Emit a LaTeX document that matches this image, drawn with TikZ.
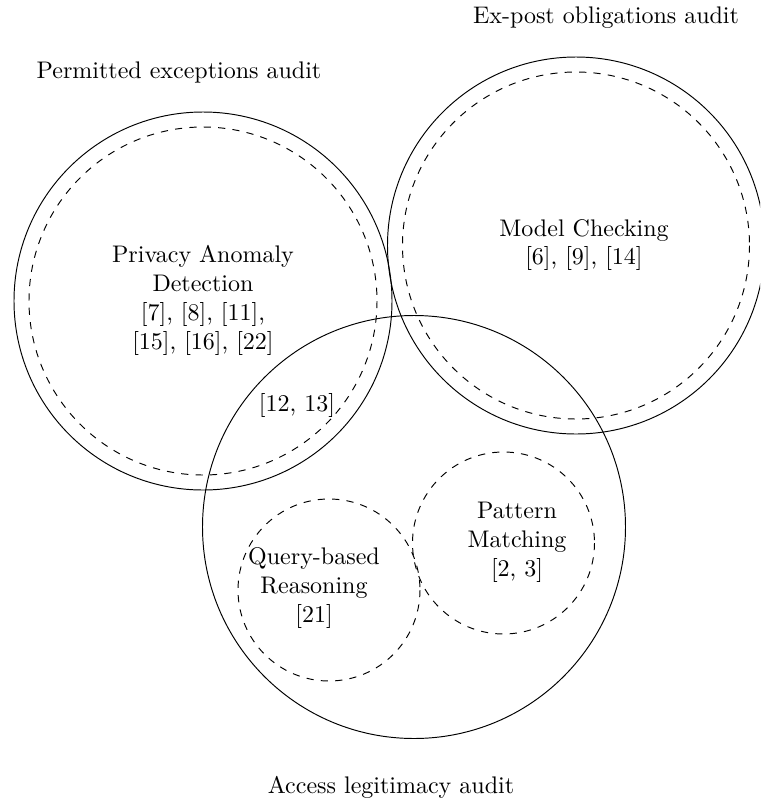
\documentclass[tikz,border=0pt]{standalone}
\begin{document}
\begin{tikzpicture}[x=0.41667pt,y=-0.41667pt,
  solidc/.style={draw=black, line width=0.4pt},
  dashc/.style={draw=black, dashed, line width=0.4pt},
  lbl/.style={align=center, inner sep=0pt}]
\useasboundingbox (0,0) rectangle (760,805);
\clip (0,0) rectangle (760,805);
% circle centres
\coordinate (cL) at (203,301);
\coordinate (cR) at (576,245.5);
\coordinate (cB) at (414,527);
\coordinate (cQ) at (329,590);
\coordinate (cP) at (503.5,543);
% circles
\draw[solidc] (cL) circle (189);
\draw[dashc]  (cL) circle (174);
\draw[solidc] (cR) circle (188.5);
\draw[dashc]  (cR) circle (173.5);
\draw[solidc] (cB) circle (211.5);
\draw[dashc]  (cQ) circle (91);
\draw[dashc]  (cP) circle (91);
% labels
\node[lbl] (expost) at (606,18) {Ex-post obligations audit};
\node[lbl] (permitted) at (179,72) {Permitted exceptions audit};
\node[lbl] (access) at (391,787) {Access legitimacy audit};
\node[lbl] (mc) at (584,245) {Model Checking\\{}[6], [9], [14]};
\node[lbl] (pad) at (203,300.5) {Privacy Anomaly\\Detection\\{}[7], [8], [11],\\{}[15], [16], [22]};
\node[lbl] (both) at (297,405) {[12, 13]};
\node[lbl] (qbr) at (314,588) {Query-based\\Reasoning\\{}[21]};
\node[lbl] (pm) at (517,542) {Pattern\\Matching\\{}[2, 3]};
\end{tikzpicture}
\end{document}
